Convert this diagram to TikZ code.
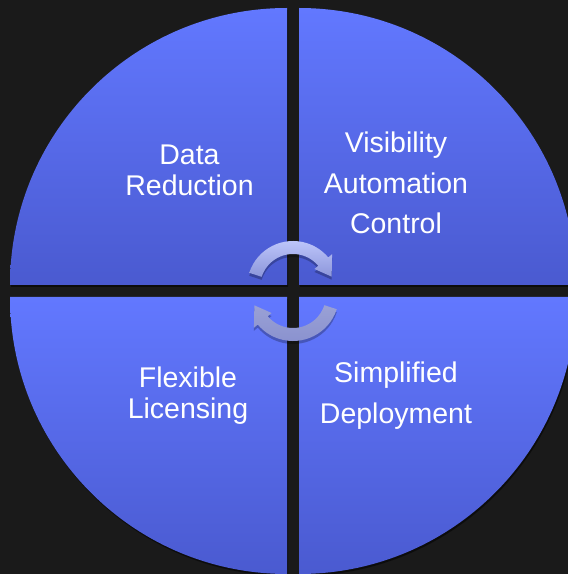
\documentclass[tikz,border=0pt]{standalone}
\usepackage{fontspec}
\setmainfont{Liberation Sans}
\usetikzlibrary{positioning}
\usetikzlibrary{shadows}
\definecolor{bgdark}{RGB}{26,26,26}
\definecolor{quadlight}{RGB}{98,120,255}
\definecolor{quaddark}{RGB}{74,90,208}
\definecolor{arrowlight}{RGB}{196,204,255}
\definecolor{arrowdark}{RGB}{140,150,218}
\definecolor{arrowgrey}{RGB}{136,144,206}

\begin{document}
\begin{tikzpicture}[x=1pt,y=1pt,semithick]
	\tikzstyle{quad}=[top color=quadlight,bottom color=quaddark,draw=none,
		drop shadow={fill=black,opacity=0.5,shadow xshift=1pt,shadow yshift=-2pt}]
	\tikzstyle{quadtext}=[text=white,align=center,font=\fontsize{28.5}{31}\selectfont]
	\tikzstyle{quadtextwide}=[quadtext,font=\fontsize{28.5}{40.5}\selectfont]
	\tikzstyle{cyclearrow}=[draw=none,
		drop shadow={fill=black,opacity=0.25,shadow xshift=0pt,shadow yshift=-3pt}]
	
	\useasboundingbox (0,0) rectangle (568,574);
	\fill[bgdark] (0,0) rectangle (568,574);
	\clip (0,0) rectangle (568,574);
	
	% four quarters of the disc
	\coordinate (tl) at (287,289);
	\coordinate (tr) at (299,289);
	\coordinate (bl) at (287,277);
	\coordinate (br) at (299,277);
	\path[quad] (tl) -- ++(-277,0) arc[start angle=180,end angle=90,radius=277pt] -- cycle;
	\path[quad] (tr) -- ++(0,277) arc[start angle=90,end angle=0,radius=277pt] -- cycle;
	\path[quad] (bl) -- ++(0,-277) arc[start angle=270,end angle=180,radius=277pt] -- cycle;
	\path[quad] (br) -- ++(277,0) arc[start angle=0,end angle=-90,radius=277pt] -- cycle;
	
	% texts
	\node[quadtext]     (data) at (189.5,403.9) {Data\\Reduction};
	\node[quadtextwide] (vis)  at (396,390.9)   {Visibility\\Automation\\Control};
	\node[quadtext]     (flex) at (188,178.4)   {Flexible\\Licensing};
	\node[quadtextwide] (simp) at (396,178.4)   {Simplified\\Deployment};
	
	% circular arrows round the centre
	\coordinate (hub) at (293,283);
	\begin{scope}[shift={(hub)},yshift=4pt]
		\path[cyclearrow,top color=arrowlight,bottom color=arrowdark]
			(162:46) arc[start angle=162,end angle=40,radius=46pt]
			-- (40:51) -- (15:40) -- (40:28) -- (40:33)
			arc[start angle=40,end angle=162,radius=33pt] -- cycle;
	\end{scope}
	\begin{scope}[shift={(hub)},yshift=-4pt]
		\path[cyclearrow,top color=arrowgrey!85!white,bottom color=arrowgrey]
			(-18:46) arc[start angle=-18,end angle=-140,radius=46pt]
			-- (-140:51) -- (-165:40) -- (-140:28) -- (-140:33)
			arc[start angle=-140,end angle=-18,radius=33pt] -- cycle;
	\end{scope}
\end{tikzpicture}
\end{document}
